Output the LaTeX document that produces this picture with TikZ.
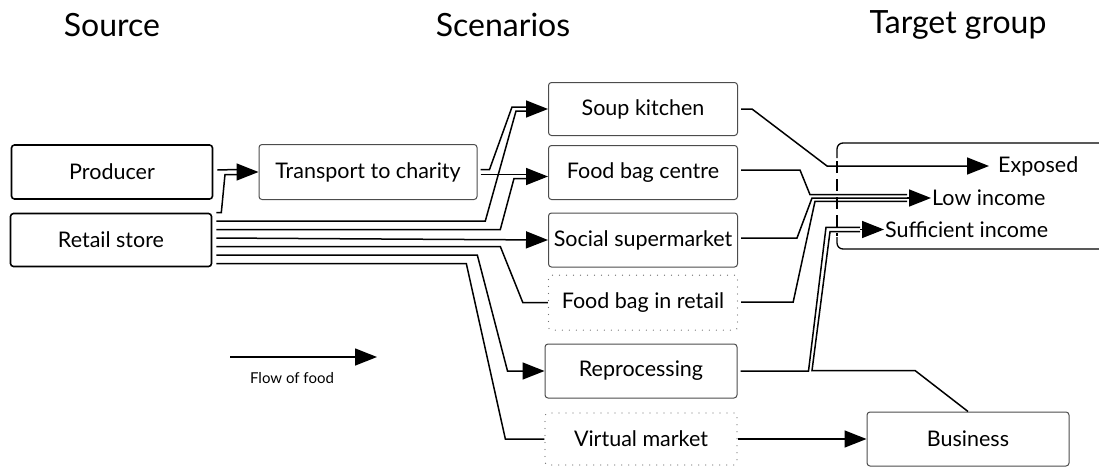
\documentclass[tikz,border=0pt]{standalone}
\usepackage{fontspec}
\setmainfont{Lato}
\usetikzlibrary{arrows.meta,positioning,calc}

\begin{document}
\begin{tikzpicture}[x=1pt,y=-1pt]
	\tikzset{block/.style={draw=black!70,line width=1pt,rounded corners=3pt,align=center,inner sep=0pt,minimum width=189pt,minimum height=54pt,font=\fontsize{21.5}{24}\selectfont},
		source/.style={block,draw=black,line width=1.6pt,minimum width=201pt},
		maybe/.style={block,draw=black!55,line width=1.3pt,dash pattern=on 0pt off 7pt,line cap=round},
		head/.style={font=\fontsize{32}{36}\selectfont},
		group/.style={anchor=west,inner sep=1pt,font=\fontsize{21.5}{24}\selectfont},
		flow/.style={line width=1.5pt},
		feed/.style={flow,-{Triangle[length=22pt,width=17pt]}}}
	\useasboundingbox (0,0) rectangle (1099,466);
	\node [head] (hsrc) at (112,25) {Source};
	\node [head] (hscen) at (503,25) {Scenarios};
	\node [head] (htg) at (958,25) {Target group};
	\node [source] (producer) at (112,172) {Producer};
	\node [source, minimum height=53pt] (retail) at (111,240) {Retail store};
	\node [block, minimum width=218pt, minimum height=55pt] (transport) at (368,172) {Transport to charity};
	\node [block, minimum height=53pt] (soup) at (643,109) {Soup kitchen};
	\node [block, below =9pt of soup] (fbc) {Food bag centre};
	\node [block, below =12.5pt of fbc] (social) {Social supermarket};
	\node [maybe, below =7pt of social, minimum height=55pt] (fbr) {Food bag in retail};
	\node [block, minimum width=192pt] (reproc) at (641,371) {Reprocessing};
	\node [maybe, minimum width=192pt, minimum height=52pt] (virtual) at (641,439) {Virtual market};
	\node [block, minimum width=202pt] (business) at (968,439) {Business};
	\node [group] (exp) at (997,166) {Exposed};
	\node [group] (low) at (931,198) {Low income};
	\node [group] (suf) at (884,229.5) {Sufficient income};
	\node [font=\fontsize{15}{17}\selectfont] (legend) at (292,378) {Flow of food};
	\coordinate (lgs) at (230,357);
	\coordinate (lge) at (377,357);
	\coordinate (tin) at (237,172);
	\coordinate (sin) at (526,109);
	\coordinate (fin) at (526,176.5);
	\coordinate (lin) at (907,198);
	\coordinate (qin) at (860,229.5);
	\draw[line width=1.3pt,rounded corners=6pt] (1110,143) -- (837,143) -- (837,158);
	\draw[line width=1.3pt,dash pattern=on 12pt off 6pt] (837,161) -- (837,236);
	\draw[line width=1.3pt,rounded corners=6pt] (837,237) -- (837,249) -- (1110,249);
	\draw[feed] (lgs) -- (lge);
	\draw[feed] (tin) -- (transport.west);
	\draw[flow] ($(producer.east)+(4,-2)$) -- ($(tin)+(0,-2.5)$);
	\draw[flow] ($(retail.north east)+(4,0)$) -- ++(5,0) -- ($(tin)+(-12,2.5)$) -- ($(tin)+(0,2.5)$);
	\draw[feed] (sin) -- (soup.west);
	\draw[feed] (fin) -- (fin -| fbc.west);
	\draw[flow] ($(transport.east)+(3,-2.5)$) -- ++(9,0) -- ($(sin)+(-14,-2)$) -- ($(sin)+(0,-2)$);
	\draw[flow] ($(transport.east)+(3,2.5)$) -- ($(fin)+(0,-2)$);
	\draw[flow] ($(retail.east)+(4,-19)$) -- ++(269,0) -- ($(sin)+(-10,2)$) -- ($(sin)+(0,2)$);
	\draw[flow] ($(retail.east)+(4,-10.5)$) -- ++(284,0) -- ($(fin)+(-12,2)$) -- ($(fin)+(0,2)$);
	\draw[feed] ($(retail.east)+(4,-2)$) -- (social.west);
	\draw[flow] ($(retail.east)+(4,6.5)$) -- ++(284,0) -- ($(fbr.west)+(-25,0)$) -- (fbr.west);
	\draw[feed] ($(retail.east)+(4,15)$) -- ++(261,0) -- ($(reproc.west)+(-37,0)$) -- (reproc.west);
	\draw[flow] ($(retail.east)+(4,23.5)$) -- ++(250,0) -- ($(virtual.west)+(-39,0)$) -- (virtual.west);
	\draw[feed] ($(soup.east)+(3,0)$) -- ++(11,0) -- (827,166) -- ([xshift=-8pt]exp.west);
	\draw[feed] (lin) -- (low.west);
	\draw[flow] ($(fbc.east)+(3,-2.5)$) -- ++(59,0) -- ($(lin)+(-97,-3.3)$) -- ($(lin)+(0,-3.3)$);
	\draw[flow] ($(social.east)+(3,-2)$) -- ++(56,0) -- ($(lin)+(-95,0)$) -- (lin);
	\draw[flow] ($(fbr.east)+(3,-0.5)$) -- ++(52,0) -- ($(lin)+(-92,3.3)$) -- ($(lin)+(0,3.3)$);
	\draw[feed] (qin) -- (suf.west);
	\draw[flow] ($(reproc.east)+(3,0)$) -- ++(68,0) -- ($(qin)+(-34,-2.2)$) -- ($(qin)+(0,-2.2)$);
	\draw[flow] (business.north) -- ++(-53,-41) -- ++(-103,0) -- ($(qin)+(-30,2.2)$) -- ($(qin)+(0,2.2)$);
	\draw[feed] (virtual.east) -- (business.west);
\end{tikzpicture}
\end{document}
